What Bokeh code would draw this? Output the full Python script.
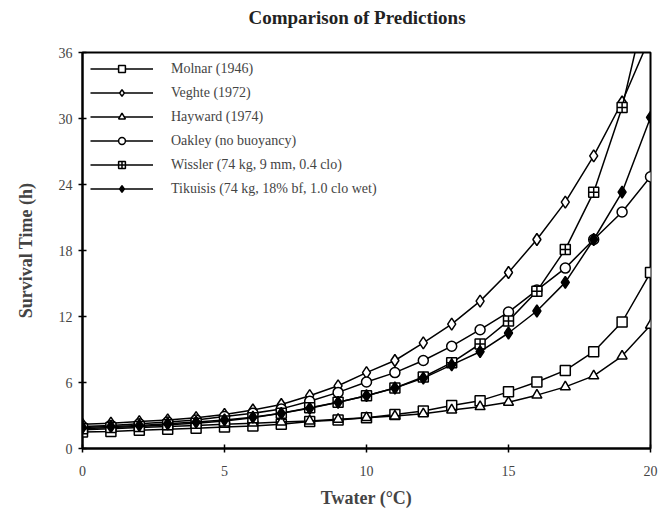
from bokeh.plotting import figure
from bokeh.models import FixedTicker, Legend, LegendItem, Div
from bokeh.layouts import column
from bokeh.embed import file_html
from bokeh.resources import INLINE

t_water = list(range(0, 21))
molnar = [1.5, 1.55, 1.65, 1.75, 1.85, 1.95, 2.05, 2.2, 2.45, 2.6, 2.8, 3.1, 3.4, 3.9, 4.35, 5.15, 6.05, 7.1, 8.8, 11.5, 16.0]
veghte = [2.2, 2.3, 2.45, 2.6, 2.8, 3.1, 3.5, 4.0, 4.8, 5.7, 6.9, 8.0, 9.6, 11.3, 13.4, 16.0, 19.0, 22.4, 26.6, 31.5, 37.5]
hayward = [1.7, 1.8, 1.9, 2.0, 2.1, 2.2, 2.3, 2.4, 2.5, 2.65, 2.8, 2.95, 3.15, 3.5, 3.8, 4.2, 4.85, 5.6, 6.6, 8.4, 11.2]
oakley = [2.0, 2.1, 2.25, 2.4, 2.6, 2.9, 3.2, 3.6, 4.3, 5.1, 6.05, 6.9, 8.0, 9.3, 10.8, 12.4, 14.4, 16.4, 19.0, 21.5, 24.7]
wissler = [1.8, 1.9, 2.0, 2.15, 2.3, 2.5, 2.8, 3.2, 3.7, 4.2, 4.8, 5.5, 6.5, 7.8, 9.5, 11.6, 14.3, 18.1, 23.3, 31.0, 42.0]
tikuisis = [1.9, 2.0, 2.1, 2.25, 2.4, 2.6, 2.85, 3.2, 3.65, 4.2, 4.8, 5.5, 6.4, 7.6, 8.8, 10.5, 12.5, 15.1, 19.0, 23.3, 30.1]

labels = ["Molnar (1946)", "Veghte (1972)", "Hayward (1974)", "Oakley (no buoyancy)",
          "Wissler (74 kg, 9 mm, 0.4 clo)", "Tikuisis (74 kg, 18% bf, 1.0 clo wet)"]
title_text = "Comparison of Predictions"
x_ticks = [0, 5, 10, 15, 20]
y_ticks = [0, 6, 12, 18, 24, 30, 36]

SERIF = "Liberation Serif"
TITLE_H = 36

title_div = Div(text=title_text, width=658, height=TITLE_H, margin=0,
                styles={"font-family": SERIF, "font-weight": "bold", "font-size": "19px",
                        "line-height": f"{TITLE_H}px", "text-align": "center",
                        "padding-left": "56px", "box-sizing": "border-box",
                        "color": "#222222"})

p = figure(width=658, height=510 - TITLE_H, x_range=(0, 20), y_range=(0, 36),
           output_backend="svg", toolbar_location=None,
           min_border_left=82, min_border_right=8, min_border_top=52 - TITLE_H, min_border_bottom=60)
p.title.visible = False

p.xgrid.visible = False
p.ygrid.visible = False
p.outline_line_color = "black"
p.outline_line_width = 2

for ax in (p.xaxis[0], p.yaxis[0]):
    ax.axis_line_width = 2
    ax.major_tick_line_width = 1.5
    ax.major_tick_in = 4
    ax.major_tick_out = 4
    ax.minor_tick_line_color = None
    ax.major_label_text_font = SERIF
    ax.major_label_text_font_size = "14px"
    ax.axis_label_text_font = SERIF
    ax.axis_label_text_font_style = "bold"
    ax.axis_label_text_font_size = "18px"

p.xaxis.ticker = FixedTicker(ticks=x_ticks)
p.yaxis.ticker = FixedTicker(ticks=y_ticks)
p.xaxis.axis_label = "Twater (°C)"
p.yaxis.axis_label = "Survival Time (h)"
p.xaxis.major_label_standoff = 13
p.xaxis.axis_label_standoff = 9
p.yaxis.major_label_standoff = 6
p.yaxis.axis_label_standoff = 20

series = [
    (molnar, "square", "white", 10),
    (veghte, "diamond", "white", 12),
    (hayward, "triangle", "white", 10),
    (oakley, "circle", "white", 10),
    (wissler, "square_cross", "white", 10),
    (tikuisis, "diamond", "black", 12),
]

items = []
for (vals, marker, fill, size), lab in zip(series, labels):
    l = p.line(t_water, vals, line_color="black", line_width=1.5)
    s = p.scatter(t_water, vals, marker=marker, size=size, fill_color=fill,
                  line_color="black", line_width=1.5)
    items.append(LegendItem(label=lab, renderers=[l, s]))

legend = Legend(items=items, location="top_left")
legend.margin = 8
legend.padding = 4
legend.spacing = 7
legend.glyph_width = 63
legend.glyph_height = 17
legend.label_standoff = 18
legend.label_text_font = SERIF
legend.label_text_font_size = "14px"
legend.border_line_color = None
legend.background_fill_alpha = 0
p.add_layout(legend)

layout = column(title_div, p, spacing=0)

open("out.html", "w").write(file_html(layout, INLINE))
